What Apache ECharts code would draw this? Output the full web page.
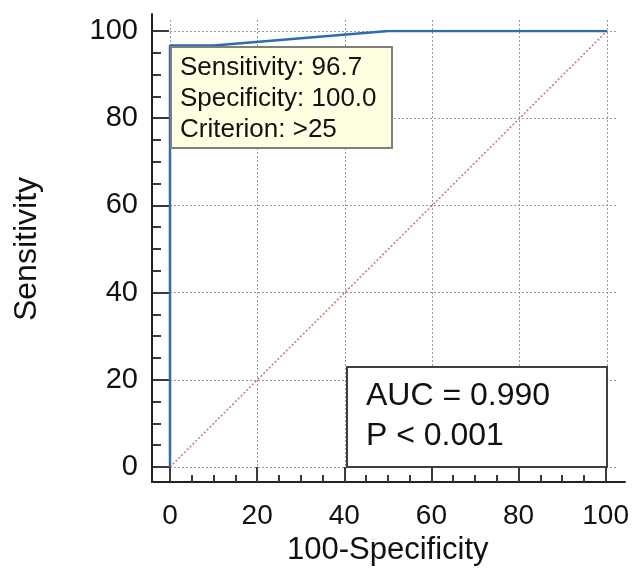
<!DOCTYPE html>
<html>
<head>
<meta charset="utf-8">
<script src="https://cdn.jsdelivr.net/npm/echarts@6/dist/echarts.min.js"></script>
<style>
  html, body { margin: 0; padding: 0; background: #fff; }
  #chart { width: 632px; height: 576px; }
</style>
</head>
<body>
<div id="chart"></div>
<script>
// ROC curve (100-Specificity, Sensitivity)
const rocX = [0, 0, 10, 50, 100];
const rocY = [0, 96.7, 96.7, 100, 100];
// diagonal reference line
const diagX = [0, 100];
const diagY = [0, 100];
// axis ticks
const ticks = [0, 20, 40, 60, 80, 100];
// annotation texts
const criterionLines = ['Sensitivity: 96.7', 'Specificity: 100.0', 'Criterion: >25'];
const statLines = ['AUC = 0.990', 'P < 0.001'];

const FONT = '"Liberation Sans", Arial, sans-serif';
const tMin = ticks[0], tMax = ticks[ticks.length - 1], tStep = ticks[1] - ticks[0];
const gridExt = tMax * 1.025;

let chartObj = echarts.init(document.getElementById('chart'));

const tickStyle = { color: '#3a3a3a', width: 2 };
const dotted = { color: '#9a9a9a', type: [2, 2], width: 1 };
const hidden = { type: 'value', show: false };

let options = {
    animation: false,
    grid: [
        // 0: data grid
        { left: 170, top: 31, width: 437, height: 436 },
        // 1: long axis lines
        { left: 152, top: 14, width: 473, height: 468 },
        // 2: dotted grid lines
        { left: 170, top: 20, width: 448, height: 447 },
        // 3: x ticks hanging from the bottom axis line
        { left: 170, top: 31, width: 437, height: 451 },
        // 4: y ticks hanging from the left axis line
        { left: 153, top: 31, width: 454, height: 436 }
    ],
    xAxis: [
        { ...hidden, gridIndex: 0, min: tMin, max: tMax },
        {
            gridIndex: 1, type: 'value', min: 0, max: 1,
            axisLine: { show: true, lineStyle: { color: '#222', width: 2 } },
            axisTick: { show: false }, axisLabel: { show: false }, splitLine: { show: false }
        },
        {
            gridIndex: 2, type: 'value', min: tMin, max: gridExt, interval: tStep,
            axisLine: { show: false }, axisTick: { show: false }, axisLabel: { show: false },
            splitLine: { show: true, showMaxLine: false, lineStyle: dotted }
        },
        {
            gridIndex: 3, type: 'value', min: tMin, max: tMax, interval: tStep,
            axisLine: { show: false },
            axisTick: { show: true, inside: true, length: 15, lineStyle: tickStyle },
            minorTick: { show: true, splitNumber: 4, length: 7, lineStyle: tickStyle },
            splitLine: { show: false },
            axisLabel: { margin: 20, fontSize: 28, color: '#111', fontFamily: FONT },
            name: '100-Specificity', nameLocation: 'middle', nameGap: 52,
            nameTextStyle: { fontSize: 31, color: '#111', fontFamily: FONT }
        },
        { ...hidden, gridIndex: 4, min: tMin, max: tMax }
    ],
    yAxis: [
        { ...hidden, gridIndex: 0, min: tMin, max: tMax },
        {
            gridIndex: 1, type: 'value', min: 0, max: 1,
            axisLine: { show: true, lineStyle: { color: '#222', width: 2 } },
            axisTick: { show: false }, axisLabel: { show: false }, splitLine: { show: false }
        },
        {
            gridIndex: 2, type: 'value', min: tMin, max: gridExt, interval: tStep,
            axisLine: { show: false }, axisTick: { show: false }, axisLabel: { show: false },
            splitLine: { show: true, showMaxLine: false, lineStyle: dotted }
        },
        { ...hidden, gridIndex: 3, min: tMin, max: tMax },
        {
            gridIndex: 4, type: 'value', min: tMin, max: tMax, interval: tStep,
            axisLine: { show: false },
            axisTick: { show: true, inside: true, length: 16, lineStyle: tickStyle },
            minorTick: { show: true, splitNumber: 4, length: 8, lineStyle: tickStyle },
            splitLine: { show: false },
            axisLabel: { margin: 15, fontSize: 29, color: '#111', fontFamily: FONT },
            name: 'Sensitivity', nameLocation: 'middle', nameGap: 110,
            nameTextStyle: { fontSize: 32, color: '#111', fontFamily: FONT }
        }
    ],
    series: [
        {
            name: 'Reference',
            type: 'line',
            xAxisIndex: 0, yAxisIndex: 0,
            symbol: 'none',
            data: diagX.map((x, i) => [x, diagY[i]]),
            lineStyle: { color: '#d87070', width: 1.5, type: [2, 2] },
            z: 3
        },
        {
            name: 'ROC',
            type: 'line',
            xAxisIndex: 0, yAxisIndex: 0,
            symbol: 'none',
            data: rocX.map((x, i) => [x, rocY[i]]),
            lineStyle: { color: '#2f6bb3', width: 2.5 },
            z: 4
        }
    ],
    graphic: [
        {
            type: 'rect', z: 100,
            shape: { x: 171, y: 47, width: 221, height: 101 },
            style: { fill: '#ffffe1', stroke: '#7f7f7f', lineWidth: 2 }
        },
        {
            type: 'text', z: 101, x: 180, y: 52,
            style: {
                text: criterionLines.join('\n'), fontSize: 26, lineHeight: 31,
                fontFamily: FONT, fill: '#111'
            }
        },
        {
            type: 'rect', z: 100,
            shape: { x: 347, y: 367, width: 260, height: 100 },
            style: { fill: '#ffffff', stroke: '#404040', lineWidth: 2 }
        },
        {
            type: 'text', z: 101, x: 366, y: 376,
            style: {
                text: statLines.join('\n'), fontSize: 32, lineHeight: 40,
                fontFamily: FONT, fill: '#111'
            }
        }
    ]
};

chartObj.setOption(options);
</script>
</body>
</html>
